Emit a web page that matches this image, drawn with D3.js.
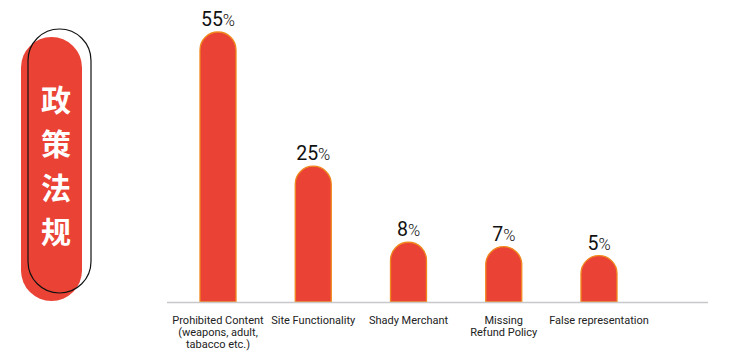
<!DOCTYPE html>
<html><head><meta charset="utf-8">
<script src="https://cdn.jsdelivr.net/npm/d3@7"></script>
<style>html,body{margin:0;padding:0;background:#fff;}svg{display:block;}</style>
</head><body>
<svg id="c" width="732" height="358"></svg>
<script>
const categories = ["Prohibited Content", "Site Functionality", "Shady Merchant", "Missing Refund Policy", "False representation"];
const categoryLines = [["Prohibited Content", "(weapons, adult,", "tabacco etc.)"], ["Site Functionality"], ["Shady Merchant"], ["Missing", "Refund Policy"], ["False representation"]];
const values = [55, 25, 8, 7, 5];
const badgeChars = ["政", "策", "法", "规"];

const svg = d3.select("#c");
const y0 = 302;
const x = d3.scaleBand().domain(categories).range([200, 617]).paddingInner(0.622).paddingOuter(0);
const h = d3.scaleLinear().domain([0, 55]).range([24, 270]);

// badge
svg.append("rect").attr("x", 21).attr("y", 37).attr("width", 61).attr("height", 264)
  .attr("rx", 30.5).attr("ry", 30.5).attr("fill", "#EA4335");
svg.append("rect").attr("x", 28).attr("y", 29).attr("width", 63).attr("height", 264)
  .attr("rx", 31.5).attr("ry", 31.5).attr("fill", "none").attr("stroke", "#111").attr("stroke-width", 1.2);
svg.selectAll("text.badge").data(badgeChars).join("text").attr("class", "badge")
  .attr("x", 56).attr("y", (d, i) => 100 + i * 44).attr("dy", "0.36em")
  .attr("text-anchor", "middle").attr("fill", "#fff")
  .attr("font-family", "Noto Sans CJK SC").attr("font-weight", 700).attr("font-size", 30)
  .text(d => d);

// bars
const w = x.bandwidth(), r = w / 2;
svg.selectAll("path.bar").data(values).join("path").attr("class", "bar")
  .attr("d", (d, i) => {
    const bx = x(categories[i]), top = y0 - h(d);
    return `M${bx},${y0}L${bx},${top + r}A${r},${r} 0 0 1 ${bx + w},${top + r}L${bx + w},${y0}Z`;
  })
  .attr("fill", "#EA4335").attr("stroke", "#F0881C").attr("stroke-width", 1.3);

// baseline
svg.append("line").attr("x1", 167).attr("x2", 708).attr("y1", y0 + 0.5).attr("y2", y0 + 0.5)
  .attr("stroke", "#c8c8cc").attr("stroke-width", 1.5);

// value labels
const vl = svg.selectAll("text.val").data(values).join("text").attr("class", "val")
  .attr("x", (d, i) => x(categories[i]) + w / 2).attr("y", d => y0 - h(d) - 6)
  .attr("text-anchor", "middle").attr("fill", "#111").attr("font-family", "Roboto");
vl.append("tspan").attr("font-size", 19.5).text(d => d);
vl.append("tspan").attr("font-size", 16.5).attr("font-weight", 300).text("%");

// category labels
categoryLines.forEach((lines, i) => {
  const t = svg.append("text").attr("text-anchor", "middle").attr("fill", "#222")
    .attr("font-family", "Roboto").attr("font-size", 11)
    .attr("x", x(categories[i]) + w / 2).attr("y", 324);
  lines.forEach((l, j) => t.append("tspan").attr("x", x(categories[i]) + w / 2).attr("dy", j ? 12 : 0).text(l));
});
</script>
</body></html>
